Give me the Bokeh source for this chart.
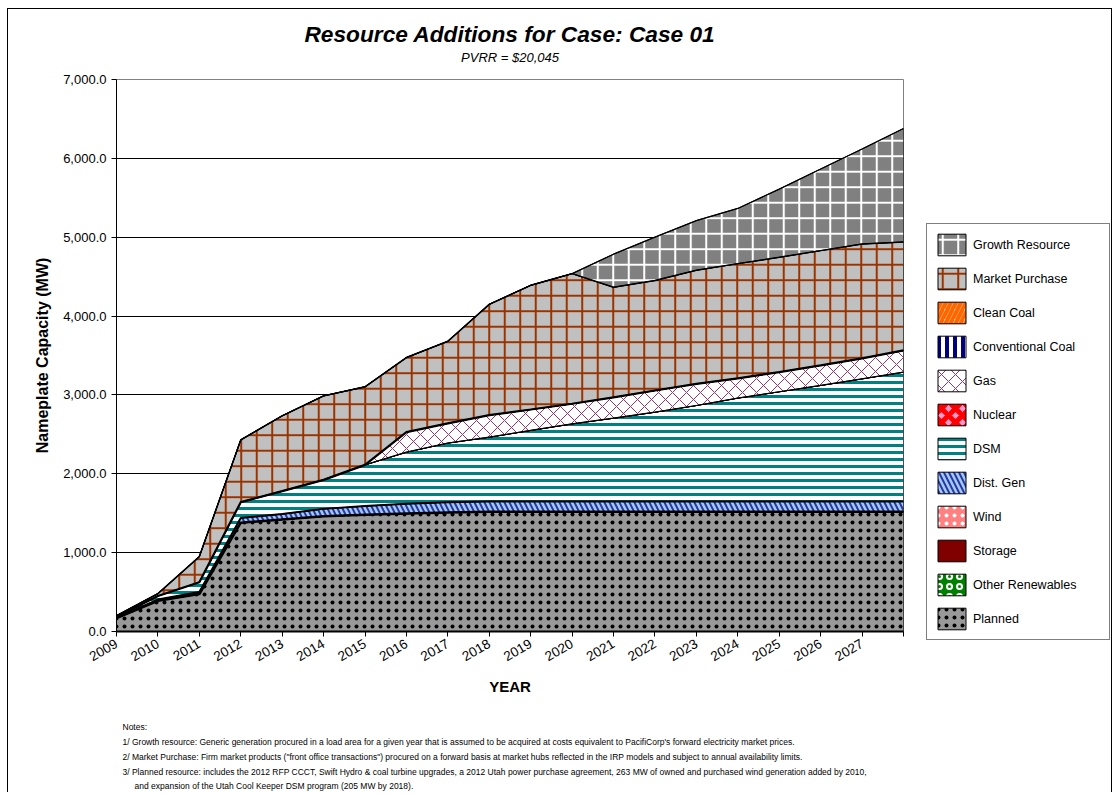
import math
import numpy as np
from bokeh.plotting import figure
from bokeh.layouts import column, row
from bokeh.models import (Range1d, FixedTicker, NumeralTickFormatter, Legend,
                          LegendItem, InlineStyleSheet)
from bokeh.core.properties import value
from bokeh.embed import file_html
from bokeh.resources import INLINE

# ---------------- data ----------------
years = ["2009", "2010", "2011", "2012", "2013", "2014", "2015", "2016", "2017", "2018",
         "2019", "2020", "2021", "2022", "2023", "2024", "2025", "2026", "2027", ""]
x_idx = list(range(20))

planned = [170, 390, 475, 1380, 1420, 1460, 1480, 1495, 1510, 1520,
           1520, 1520, 1520, 1520, 1520, 1520, 1520, 1520, 1520, 1520]
other_renewables = [0] * 20
storage = [0] * 20
wind = [0] * 20
dist_gen = [5, 15, 25, 60, 70, 95, 110, 125, 130, 130,
            130, 130, 130, 130, 130, 130, 130, 130, 130, 130]
dsm = [10, 45, 125, 200, 290, 368, 523, 654, 750, 814,
       900, 983, 1055, 1131, 1216, 1310, 1390, 1470, 1554, 1639]
nuclear = [0] * 20
gas = [0, 0, 0, 0, 0, 0, 0, 255, 250, 280,
       265, 255, 265, 275, 275, 250, 250, 255, 260, 275]
conventional_coal = [0] * 20
clean_coal = [0] * 20
market_purchase = [15, 30, 325, 790, 955, 1065, 990, 945, 1040, 1405,
                   1575, 1650, 1395, 1395, 1440, 1455, 1455, 1455, 1450, 1375]
growth_resource = [0, 0, 0, 0, 0, 0, 0, 0, 0, 0,
                   0, 0, 420, 550, 630, 700, 865, 1035, 1205, 1440]

title_text = "Resource Additions for Case: Case 01"
subtitle_text = "PVRR = $20,045"
notes = [
    "Notes:",
    "1/ Growth resource: Generic generation procured in a load area for a given year that is assumed to be acquired at costs equivalent to PacifiCorp's forward electricity market prices.",
    "2/ Market Purchase: Firm market products (\"front office transactions\") procured on a forward basis at market hubs reflected in the IRP models and subject to annual availability limits.",
    "3/ Planned resource: includes the 2012 RFP CCCT, Swift Hydro & coal turbine upgrades, a 2012 Utah power purchase agreement, 263 MW of owned and purchased wind generation added by 2010,",
    "and expansion of the Utah Cool Keeper DSM program (205 MW by 2018).",
]

# stacking order bottom -> top, with styles
series = [
    ("Planned", planned, dict(fill_color="#999999", hatch_pattern=".", hatch_color="black", hatch_scale=8, hatch_weight=0.2)),
    ("Other Renewables", other_renewables, dict(fill_color="#008000", hatch_pattern="o", hatch_color="white", hatch_scale=10, hatch_weight=2)),
    ("Storage", storage, dict(fill_color="#800000")),
    ("Wind", wind, dict(fill_color="#FF8080", hatch_pattern=".", hatch_color="white", hatch_scale=8, hatch_weight=0.3)),
    ("Dist. Gen", dist_gen, dict(fill_color="#99CCFF", hatch_pattern="\\", hatch_color="#333399", hatch_scale=10, hatch_weight=2)),
    ("DSM", dsm, dict(fill_color="white", hatch_pattern="-", hatch_color="#008080", hatch_scale=7, hatch_weight=3)),
    ("Nuclear", nuclear, dict(fill_color="#FF99CC", hatch_pattern="x", hatch_color="#FF0000", hatch_scale=14, hatch_weight=5)),
    ("Gas", gas, dict(fill_color="white", hatch_pattern="x", hatch_color="#993366", hatch_scale=14, hatch_weight=1)),
    ("Conventional Coal", conventional_coal, dict(fill_color="white", hatch_pattern="|", hatch_color="#000080", hatch_scale=8, hatch_weight=4)),
    ("Clean Coal", clean_coal, dict(fill_color="#FFCC99", hatch_pattern="/", hatch_color="#FF6600", hatch_scale=10, hatch_weight=4)),
    ("Market Purchase", market_purchase, dict(fill_color="#C0C0C0", hatch_pattern="+", hatch_color="#993300", hatch_scale=15.5, hatch_weight=2)),
    ("Growth Resource", growth_resource, dict(fill_color="#808080", hatch_pattern="+", hatch_color="white", hatch_scale=15.5, hatch_weight=2)),
]
top_line_width = {"Planned": 2.5, "Dist. Gen": 2, "DSM": 1.2, "Gas": 2.2,
                  "Market Purchase": 1.5, "Growth Resource": 1.2}
legend_order = ["Growth Resource", "Market Purchase", "Clean Coal", "Conventional Coal",
                "Gas", "Nuclear", "DSM", "Dist. Gen", "Wind", "Storage",
                "Other Renewables", "Planned"]

FONT = "Liberation Sans"
W = 1114
MAIN_W = 920                 # main chart width; legend strip takes the rest
TOP_H, MAIN_H, NOTES_H = 70, 642, 81
FRAME_LEFT, FRAME_RIGHT = 116, 903
FRAME_TOP, FRAME_BOTTOM = 79, 631   # page coords of the plot frame


def blank_fig(width, height):
    f = figure(width=width, height=height, output_backend="svg", toolbar_location=None,
               x_range=Range1d(0, width), y_range=Range1d(0, height), min_border=0,
               x_axis_location=None, y_axis_location=None, outline_line_color=None,
               background_fill_color="white", border_fill_color="white",
               frame_align=False)
    f.grid.visible = False
    return f


# ---------------- title strip ----------------
top = blank_fig(W, TOP_H)
top.text(x=[(FRAME_LEFT + FRAME_RIGHT) / 2], y=[TOP_H - 33], text=[title_text],
         text_align="center", text_baseline="middle", text_font=value(FONT),
         text_font_size="22.7px", text_font_style="bold italic", text_color="black")
top.text(x=[(FRAME_LEFT + FRAME_RIGHT) / 2], y=[TOP_H - 57], text=[subtitle_text],
         text_align="center", text_baseline="middle", text_font=value(FONT),
         text_font_size="13px", text_font_style="italic", text_color="black")

# ---------------- main chart ----------------
p = figure(width=MAIN_W, height=MAIN_H, output_backend="svg", toolbar_location=None,
           title=None, frame_align=False,
           x_range=Range1d(0, 19), y_range=Range1d(0, 7000),
           min_border_left=FRAME_LEFT, min_border_right=MAIN_W - FRAME_RIGHT,
           min_border_top=FRAME_TOP - TOP_H,
           min_border_bottom=TOP_H + MAIN_H - FRAME_BOTTOM,
           background_fill_color="white", border_fill_color="white")

bottom = np.zeros(20)
tops = {}
for name, vals, style in series:
    top_vals = bottom + np.array(vals, dtype=float)
    xs = x_idx + x_idx[::-1]
    ys = list(top_vals) + list(bottom[::-1])
    p.patch(xs, ys, line_color="black", line_width=1, **style)
    tops[name] = top_vals
    bottom = top_vals

for name, w in top_line_width.items():
    p.line(x_idx, list(tops[name]), line_color="black", line_width=w)

p.xaxis.ticker = FixedTicker(ticks=x_idx)
p.xaxis.major_label_overrides = {i: years[i] for i in x_idx}
p.xaxis.major_label_orientation = math.pi / 6
p.xaxis.major_label_text_font = FONT
p.xaxis.major_label_text_font_size = "13.5px"
p.xaxis.major_label_text_color = "black"
p.xaxis.major_tick_out = 5
p.xaxis.major_tick_in = 0
p.xaxis.minor_tick_line_color = None
p.xaxis.axis_line_color = "black"
p.xaxis.axis_line_width = 2
p.xaxis.major_tick_line_color = "black"
p.xaxis.axis_label = "YEAR"
p.xaxis.axis_label_text_font = FONT
p.xaxis.axis_label_text_font_size = "15px"
p.xaxis.axis_label_text_font_style = "bold"
p.xaxis.axis_label_text_color = "black"
p.xaxis.axis_label_standoff = 10
p.xaxis.major_label_standoff = 6

p.yaxis.ticker = FixedTicker(ticks=list(range(0, 7001, 1000)))
p.yaxis.formatter = NumeralTickFormatter(format="0,0.0")
p.yaxis.major_label_text_font = FONT
p.yaxis.major_label_text_font_size = "13px"
p.yaxis.major_label_text_color = "black"
p.yaxis.major_tick_out = 5
p.yaxis.major_tick_in = 0
p.yaxis.minor_tick_line_color = None
p.yaxis.axis_line_color = "black"
p.yaxis.major_tick_line_color = "black"
p.yaxis.major_label_standoff = 5
p.yaxis.axis_label = "Nameplate Capacity (MW)"
p.yaxis.axis_label_text_font = FONT
p.yaxis.axis_label_text_font_size = "16px"
p.yaxis.axis_label_text_font_style = "bold"
p.yaxis.axis_label_text_color = "black"
p.yaxis.axis_label_standoff = 9

p.xgrid.grid_line_color = None
p.ygrid.grid_line_color = "black"
p.ygrid.grid_line_width = 1
p.outline_line_color = "#808080"

# ---------------- legend strip ----------------
LEG_W = W - MAIN_W
lf = blank_fig(LEG_W, MAIN_H)
style_by_name = {name: style for name, _, style in series}
legend_items = []
for name in legend_order:
    # swatch renderers: a degenerate patch placed outside the visible range
    r = lf.patch([-20, -19, -19], [-20, -20, -19], line_color="black", line_width=1,
                 **style_by_name[name])
    legend_items.append(LegendItem(label=name, renderers=[r]))
legend = Legend(items=legend_items,
                location=(926 - MAIN_W, (TOP_H + MAIN_H) - 640),
                border_line_color="black", border_line_width=1,
                background_fill_color="white", background_fill_alpha=1,
                padding=7, spacing=7, margin=0, glyph_width=35, glyph_height=27,
                label_height=27, label_width=129, label_standoff=4,
                label_text_font=FONT, label_text_font_size="12.5px",
                label_text_color="black")
lf.add_layout(legend, "center")

# ---------------- notes strip ----------------
nf = blank_fig(W, NOTES_H)
notes_top = TOP_H + MAIN_H
note_page_y = [726, 741, 756, 771, 785]
note_x = [122, 122, 122, 122, 134]
nf.text(x=note_x, y=[NOTES_H - (yy - notes_top) for yy in note_page_y], text=notes,
        text_align="left", text_baseline="middle", text_font=value(FONT),
        text_font_size="8.5px", text_color="black")

layout = column(top, row(p, lf, spacing=0), nf, spacing=0)
layout.stylesheets = [InlineStyleSheet(css=(
    ":host::after { content: ''; position: absolute; left: 7px; top: 8px; "
    "width: 1105px; height: 784px; border-left: 1px solid black; "
    "border-top: 1px solid black; border-right: 1px solid black; "
    "box-sizing: border-box; pointer-events: none; }"))]

open("out.html", "w").write(file_html(layout, INLINE))
